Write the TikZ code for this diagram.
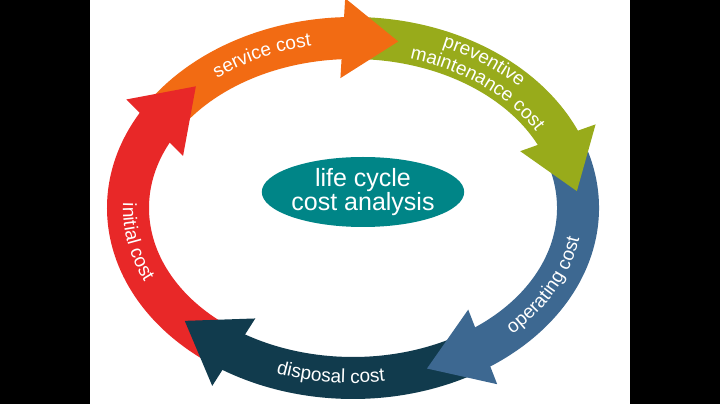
\documentclass[tikz,border=0pt]{standalone}
\usepackage{fontspec}
\setmainfont{Liberation Sans}
\usetikzlibrary{calc,shapes.geometric,decorations.text}
\definecolor{redcost}{HTML}{E82828}
\definecolor{orangecost}{HTML}{F26B13}
\definecolor{greencost}{HTML}{98AB1B}
\definecolor{bluecost}{HTML}{3D6891}
\definecolor{darkcost}{HTML}{113B4D}
\definecolor{tealcost}{HTML}{008587}
\newcommand\bandfont{\fontsize{19}{19}\selectfont}

\begin{document}
\begin{tikzpicture}[x=1pt, y=1pt,
    bandtext/.style={decorate, decoration={text along path, text align=center, text color=white}},
    hub/.style={ellipse, fill=tealcost, text=white, minimum width=182pt, minimum height=70pt,
                inner sep=0pt, align=center, font=\fontsize{25}{23}\selectfont}
  ]
    \useasboundingbox (0,0) rectangle (720,404);
    \fill[black] (0,0) rectangle (90,404);
    \fill[white] (90,0) rectangle (630,404);
    \fill[black] (630,0) rectangle (720,404);

    \coordinate (c) at (353,196);

    % bands: colour / tail angle / end angle
    \foreach \col/\ts/\te in {redcost/233.5/147.8, orangecost/147.5/88.5, greencost/88/20.4,
                             bluecost/20/-58.8, darkcost/-59.3/-126}
      \fill[\col] ([shift={(\ts:246pt and 191pt)}]c)
          arc[start angle=\ts, end angle=\te, x radius=246pt, y radius=191pt]
          -- ([shift={(\te:204pt and 149pt)}]c)
          arc[start angle=\te, end angle=\ts, x radius=204pt, y radius=149pt] -- cycle;

    % heads: colour / base angle / tip angle
    \foreach \col/\tb/\tt in {redcost/151.8/134.3, orangecost/92.6/78.4, greencost/24.4/5.7,
                             bluecost/-54.8/-70.8, darkcost/-122/-138.4} {
      \coordinate (hb) at ([shift={(\tb:225pt and 170pt)}]c);
      \coordinate (ht) at ([shift={(\tt:225pt and 170pt)}]c);
      \fill[\col] ($(hb)!40pt!90:(ht)$) -- (ht) -- ($(hb)!40pt!-90:(ht)$) -- cycle;
    }

    \path[bandtext, decoration={text={|\bandfont|service cost}}]
      ([shift={(145:220pt and 165pt)}]c) arc[start angle=145, end angle=86, x radius=220pt, y radius=165pt];
    \path[bandtext, decoration={text={|\bandfont|preventive}}]
      ([shift={(84:230pt and 175pt)}]c) arc[start angle=84, end angle=24, x radius=230pt, y radius=175pt];
    \path[bandtext, decoration={text={|\bandfont|maintenance cost}}]
      ([shift={(81:210pt and 155pt)}]c) arc[start angle=81, end angle=21, x radius=210pt, y radius=155pt];
    \path[bandtext, decoration={text={|\bandfont|operating cost}}]
      ([shift={(-57:230pt and 175pt)}]c) arc[start angle=-57, end angle=3, x radius=230pt, y radius=175pt];
    \path[bandtext, decoration={text={|\bandfont|disposal cost}}]
      ([shift={(-126:230pt and 175pt)}]c) arc[start angle=-126, end angle=-66, x radius=230pt, y radius=175pt];
    \path[bandtext, decoration={text={|\bandfont|initial cost}}]
      ([shift={(161:230pt and 175pt)}]c) arc[start angle=161, end angle=221, x radius=230pt, y radius=175pt];

    \node[hub] (lcca) at (363,212) {life cycle\\cost analysis};
\end{tikzpicture}
\end{document}
